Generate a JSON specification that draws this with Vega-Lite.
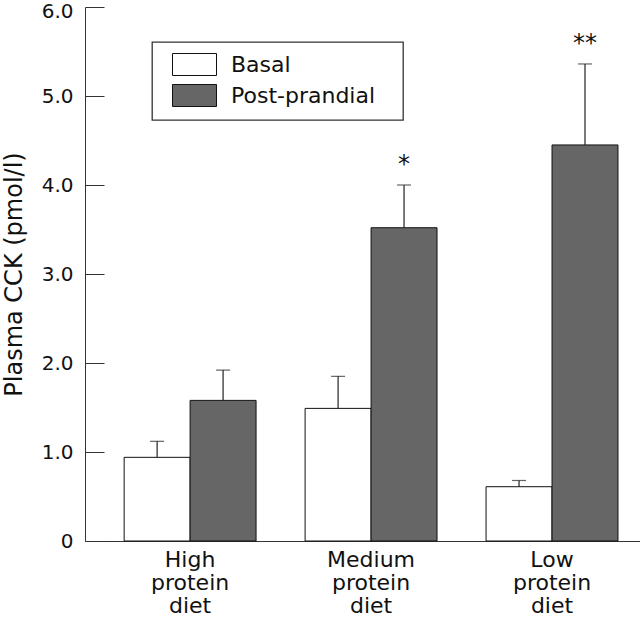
{
  "$schema": "https://vega.github.io/schema/vega-lite/v6.json",
  "width": 555,
  "height": 534,
  "autosize": {"type": "none"},
  "padding": {"left": 85, "top": 7, "right": 0, "bottom": 76},
  "config": {"view": {"stroke": null}, "font": "DejaVu Sans"},
  "data": {
    "values": [
      {"diet": "High protein diet", "group": "Basal", "value": 0.94, "upper": 1.12, "sig": ""},
      {"diet": "High protein diet", "group": "Post-prandial", "value": 1.58, "upper": 1.92, "sig": ""},
      {"diet": "Medium protein diet", "group": "Basal", "value": 1.49, "upper": 1.85, "sig": ""},
      {"diet": "Medium protein diet", "group": "Post-prandial", "value": 3.52, "upper": 4.0, "sig": "*"},
      {"diet": "Low protein diet", "group": "Basal", "value": 0.61, "upper": 0.68, "sig": ""},
      {"diet": "Low protein diet", "group": "Post-prandial", "value": 4.45, "upper": 5.36, "sig": "**"}
    ]
  },
  "encoding": {
    "x": {
      "field": "diet",
      "type": "nominal",
      "sort": ["High protein diet", "Medium protein diet", "Low protein diet"],
      "scale": {"paddingInner": 0.271, "paddingOuter": 0.169, "align": 0.64},
      "axis": {
        "title": null,
        "labelAngle": 0,
        "ticks": false,
        "domainColor": "#333",
        "labelExpr": "split(datum.label, ' ')",
        "labelFontSize": 22,
        "labelFont": "DejaVu Sans",
        "labelColor": "#111",
        "labelLineHeight": 23,
        "labelPadding": 8
      }
    },
    "xOffset": {
      "field": "group",
      "type": "nominal",
      "sort": ["Basal", "Post-prandial"],
      "scale": {"paddingInner": 0, "paddingOuter": 0}
    }
  },
  "layer": [
    {
      "mark": {"type": "bar", "stroke": "#111", "strokeWidth": 1},
      "encoding": {
        "y": {
          "field": "value",
          "type": "quantitative",
          "scale": {"domain": [0, 6], "nice": false},
          "axis": {
            "title": "Plasma CCK (pmol/l)",
            "values": [0, 1, 2, 3, 4, 5, 6],
            "labelExpr": "datum.value == 0 ? '0' : format(datum.value, '.1f')",
            "tickSize": -19,
            "labelPadding": 31,
            "labelOffset": {"condition": {"test": "datum.value == 6", "value": 4}, "value": 0},
            "grid": false,
            "domainColor": "#333",
            "tickColor": "#333",
            "labelFontSize": 20,
            "labelFont": "DejaVu Sans",
            "labelColor": "#111",
            "titleFontSize": 24,
            "titleFont": "DejaVu Sans",
            "titleFontWeight": "normal",
            "titleColor": "#111",
            "titleX": -71,
            "titleBaseline": "middle"
          }
        },
        "color": {
          "field": "group",
          "type": "nominal",
          "scale": {"domain": ["Basal", "Post-prandial"], "range": ["#ffffff", "#666666"]},
          "legend": {
            "orient": "none",
            "legendX": 67,
            "legendY": 35,
            "title": null,
            "direction": "vertical",
            "padding": 11,
            "strokeColor": "#333",
            "fillColor": "#ffffff",
            "symbolType": "M-2,-1H2V1H-2Z",
            "symbolSize": 484,
            "symbolStrokeColor": "#111",
            "symbolStrokeWidth": 1,
            "symbolOpacity": 1,
            "symbolOffset": 20,
            "labelOffset": 25,
            "labelLimit": 300,
            "labelExpr": "datum.label + '\u2800'",
            "labelFontSize": 22,
            "labelFont": "DejaVu Sans",
            "labelColor": "#111",
            "rowPadding": 4,
            "encode": {"legend": {"update": {"strokeWidth": {"value": 1.3}}}}
          }
        }
      }
    },
    {
      "mark": {"type": "rule", "color": "#222", "strokeWidth": 1.2},
      "encoding": {
        "y": {"field": "value", "type": "quantitative"},
        "y2": {"field": "upper"}
      }
    },
    {
      "mark": {"type": "tick", "color": "#222", "thickness": 1.2, "size": 14},
      "encoding": {
        "y": {"field": "upper", "type": "quantitative"}
      }
    },
    {
      "transform": [{"filter": "datum.sig != ''"}],
      "mark": {"type": "text", "fontSize": 24, "dy": -13, "baseline": "alphabetic", "font": "DejaVu Sans", "color": "#111"},
      "encoding": {
        "y": {"field": "upper", "type": "quantitative"},
        "text": {"field": "sig"}
      }
    }
  ]
}
